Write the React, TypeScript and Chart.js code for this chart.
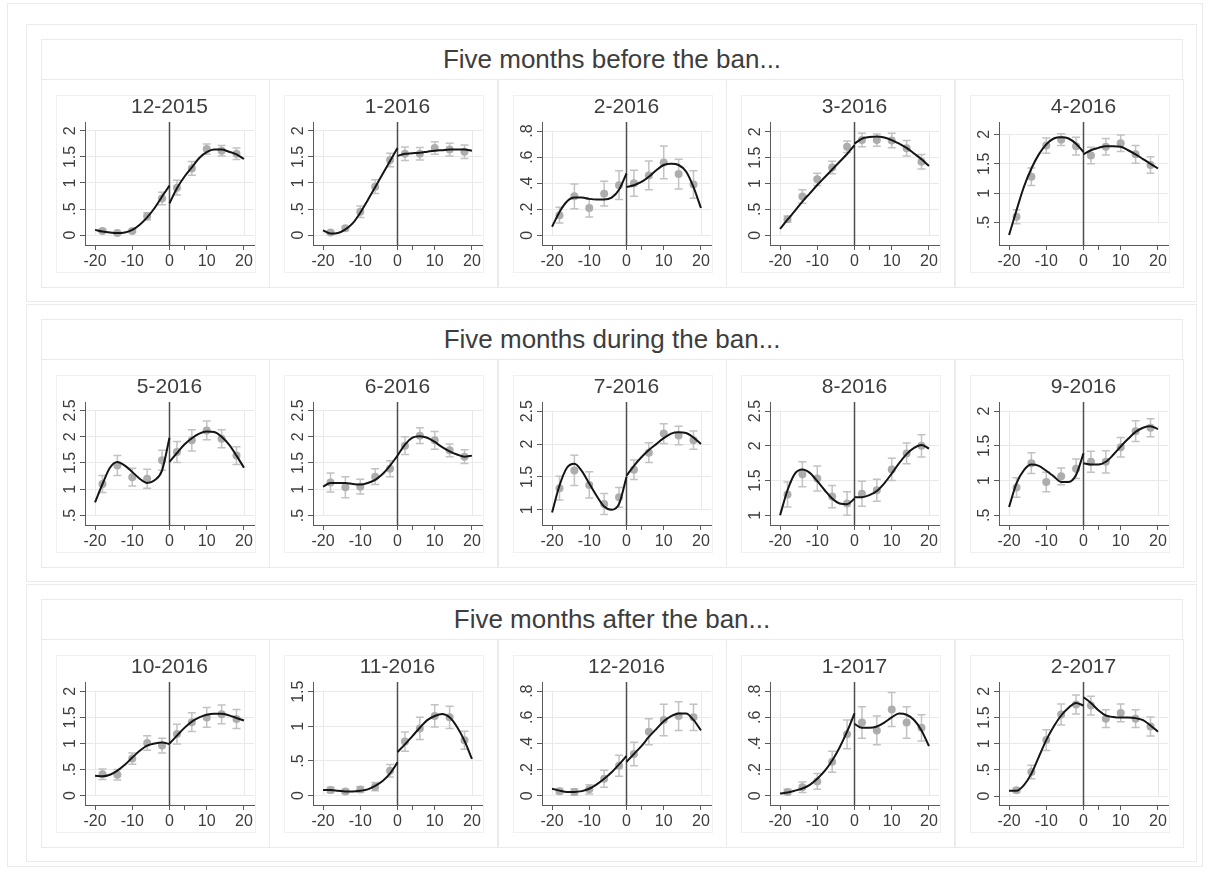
import React, { useEffect, useRef } from 'react';
import { Chart, registerables } from 'chart.js';

Chart.register(...registerables);

const FONT = "'Liberation Sans', Arial, Helvetica, sans-serif";
const TEXT = '#3d3d3d';
const FRAME = '#ebebeb';
const GRID = '#e9e9e9';
const AXIS = '#5a5a5a';

// ---------- shared axes / categories ----------
const groupTitles = ['Five months before the ban...', 'Five months during the ban...', 'Five months after the ban...'];
const binX = [-18, -14, -10, -6, -2, 2, 6, 10, 14, 18];
const fitXLeft = [-20, -18, -16, -14, -12, -10, -8, -6, -4, -2, 0];
const fitXRight = [0, 2, 4, 6, 8, 10, 12, 14, 16, 18, 20];
const xTicks = [-20, -10, 0, 10, 20];
const xExtraTick = 4;
const xRange = [-22.7, 22.7];

// ---------- 12-2015 ----------
const dec15Mean = [0.08, 0.04, 0.08, 0.36, 0.70, 0.91, 1.28, 1.65, 1.62, 1.56];
const dec15Err = [0.03, 0.03, 0.03, 0.07, 0.12, 0.14, 0.13, 0.10, 0.10, 0.11];
const dec15FitL = [0.10, 0.07, 0.05, 0.04, 0.05, 0.10, 0.20, 0.34, 0.52, 0.74, 0.95];
const dec15FitR = [0.61, 0.90, 1.12, 1.30, 1.48, 1.59, 1.64, 1.64, 1.60, 1.55, 1.46];
const dec15YTicks = [0, 0.5, 1, 1.5, 2];
const dec15YRange = [-0.19, 2.17];

// ---------- 1-2016 ----------
const jan16Mean = [0.05, 0.13, 0.45, 0.93, 1.44, 1.56, 1.56, 1.67, 1.64, 1.60];
const jan16Err = [0.03, 0.04, 0.11, 0.13, 0.13, 0.13, 0.12, 0.12, 0.12, 0.13];
const jan16FitL = [0.09, 0.03, 0.04, 0.11, 0.23, 0.43, 0.67, 0.92, 1.17, 1.42, 1.67];
const jan16FitR = [1.52, 1.56, 1.57, 1.58, 1.60, 1.62, 1.63, 1.64, 1.64, 1.64, 1.62];
const jan16YTicks = [0, 0.5, 1, 1.5, 2];
const jan16YRange = [-0.19, 2.17];

// ---------- 2-2016 ----------
const feb16Mean = [0.155, 0.30, 0.21, 0.32, 0.385, 0.40, 0.46, 0.56, 0.47, 0.39];
const feb16Err = [0.06, 0.095, 0.07, 0.095, 0.11, 0.10, 0.11, 0.125, 0.115, 0.105];
const feb16FitL = [0.066, 0.18, 0.26, 0.29, 0.29, 0.28, 0.275, 0.275, 0.29, 0.35, 0.475];
const feb16FitR = [0.37, 0.385, 0.41, 0.45, 0.50, 0.54, 0.55, 0.54, 0.49, 0.37, 0.21];
const feb16YTicks = [0, 0.2, 0.4, 0.6, 0.8];
const feb16YRange = [-0.074, 0.87];

// ---------- 3-2016 ----------
const mar16Mean = [0.31, 0.75, 1.08, 1.31, 1.71, 1.84, 1.84, 1.83, 1.68, 1.42];
const mar16Err = [0.06, 0.13, 0.12, 0.12, 0.11, 0.13, 0.12, 0.14, 0.15, 0.14];
const mar16FitL = [0.12, 0.30, 0.47, 0.65, 0.81, 0.97, 1.12, 1.27, 1.42, 1.57, 1.74];
const mar16FitR = [1.77, 1.87, 1.90, 1.91, 1.89, 1.84, 1.77, 1.69, 1.58, 1.47, 1.34];
const mar16YTicks = [0, 0.5, 1, 1.5, 2];
const mar16YRange = [-0.19, 2.19];

// ---------- 4-2016 ----------
const apr16Mean = [0.60, 1.28, 1.81, 1.91, 1.80, 1.64, 1.79, 1.85, 1.66, 1.48];
const apr16Err = [0.12, 0.15, 0.13, 0.10, 0.15, 0.14, 0.14, 0.14, 0.15, 0.14];
const apr16FitL = [0.29, 0.71, 1.11, 1.42, 1.66, 1.83, 1.93, 1.95, 1.93, 1.84, 1.70];
const apr16FitR = [1.66, 1.73, 1.77, 1.80, 1.80, 1.79, 1.73, 1.66, 1.58, 1.50, 1.42];
const apr16YTicks = [0.5, 1, 1.5, 2];
const apr16YRange = [0.12, 2.21];

// ---------- 5-2016 ----------
const may16Mean = [1.10, 1.45, 1.23, 1.20, 1.55, 1.71, 1.93, 2.12, 1.96, 1.64];
const may16Err = [0.16, 0.19, 0.17, 0.18, 0.19, 0.20, 0.20, 0.18, 0.17, 0.17];
const may16FitL = [0.75, 1.10, 1.41, 1.52, 1.45, 1.33, 1.20, 1.12, 1.17, 1.36, 1.98];
const may16FitR = [1.52, 1.69, 1.85, 1.97, 2.06, 2.10, 2.09, 2.00, 1.85, 1.64, 1.41];
const may16YTicks = [0.5, 1, 1.5, 2, 2.5];
const may16YRange = [0.32, 2.66];

// ---------- 6-2016 ----------
const jun16Mean = [1.13, 1.04, 1.05, 1.24, 1.39, 1.83, 2.02, 1.93, 1.74, 1.62];
const jun16Err = [0.18, 0.20, 0.14, 0.15, 0.15, 0.17, 0.15, 0.17, 0.12, 0.13];
const jun16FitL = [1.05, 1.12, 1.12, 1.12, 1.10, 1.09, 1.12, 1.18, 1.29, 1.45, 1.64];
const jun16FitR = [1.64, 1.85, 1.98, 2.01, 1.98, 1.90, 1.80, 1.72, 1.66, 1.62, 1.64];
const jun16YTicks = [0.5, 1, 1.5, 2, 2.5];
const jun16YRange = [0.32, 2.66];

// ---------- 7-2016 ----------
const jul16Mean = [1.33, 1.60, 1.38, 1.09, 1.19, 1.61, 1.87, 2.16, 2.13, 2.06];
const jul16Err = [0.18, 0.23, 0.20, 0.16, 0.15, 0.15, 0.15, 0.15, 0.14, 0.14];
const jul16FitL = [0.96, 1.37, 1.64, 1.70, 1.59, 1.40, 1.21, 1.05, 1.00, 1.09, 1.50];
const jul16FitR = [1.52, 1.67, 1.80, 1.91, 2.00, 2.09, 2.16, 2.18, 2.17, 2.10, 2.00];
const jul16YTicks = [1, 1.5, 2, 2.5];
const jul16YRange = [0.77, 2.64];

// ---------- 8-2016 ----------
const aug16Mean = [1.30, 1.59, 1.53, 1.27, 1.17, 1.31, 1.36, 1.66, 1.89, 2.00];
const aug16Err = [0.18, 0.18, 0.18, 0.16, 0.17, 0.18, 0.16, 0.16, 0.15, 0.16];
const aug16FitL = [1.00, 1.36, 1.60, 1.66, 1.61, 1.49, 1.36, 1.24, 1.17, 1.16, 1.24];
const aug16FitR = [1.26, 1.26, 1.29, 1.35, 1.46, 1.60, 1.75, 1.88, 1.97, 2.01, 1.96];
const aug16YTicks = [1, 1.5, 2, 2.5];
const aug16YRange = [0.86, 2.63];

// ---------- 9-2016 ----------
const sep16Mean = [0.90, 1.25, 0.98, 1.06, 1.17, 1.27, 1.27, 1.48, 1.71, 1.76];
const sep16Err = [0.14, 0.15, 0.14, 0.12, 0.14, 0.15, 0.16, 0.14, 0.15, 0.13];
const sep16FitL = [0.62, 0.96, 1.15, 1.23, 1.21, 1.14, 1.06, 0.98, 0.98, 1.08, 1.39];
const sep16FitR = [1.25, 1.23, 1.23, 1.27, 1.37, 1.49, 1.60, 1.70, 1.76, 1.78, 1.74];
const sep16YTicks = [0.5, 1, 1.5, 2];
const sep16YRange = [0.36, 2.13];

// ---------- 10-2016 ----------
const oct16Mean = [0.41, 0.40, 0.71, 1.01, 0.96, 1.18, 1.41, 1.50, 1.56, 1.47];
const oct16Err = [0.10, 0.10, 0.11, 0.14, 0.14, 0.19, 0.18, 0.19, 0.18, 0.18];
const oct16FitL = [0.38, 0.37, 0.40, 0.48, 0.59, 0.73, 0.86, 0.96, 1.00, 1.02, 0.99];
const oct16FitR = [1.00, 1.15, 1.30, 1.42, 1.50, 1.55, 1.57, 1.57, 1.54, 1.49, 1.44];
const oct16YTicks = [0, 0.5, 1, 1.5, 2];
const oct16YRange = [-0.18, 2.18];

// ---------- 11-2016 ----------
const nov16Mean = [0.08, 0.06, 0.09, 0.13, 0.36, 0.78, 0.97, 1.15, 1.13, 0.80];
const nov16Err = [0.04, 0.03, 0.04, 0.06, 0.09, 0.14, 0.16, 0.16, 0.16, 0.13];
const nov16FitL = [0.08, 0.08, 0.07, 0.06, 0.06, 0.07, 0.09, 0.14, 0.21, 0.32, 0.48];
const nov16FitR = [0.63, 0.74, 0.86, 0.98, 1.09, 1.15, 1.18, 1.13, 0.99, 0.79, 0.53];
const nov16YTicks = [0, 0.5, 1, 1.5];
const nov16YRange = [-0.135, 1.64];

// ---------- 12-2016 ----------
const dec16Mean = [0.036, 0.03, 0.05, 0.13, 0.23, 0.32, 0.49, 0.58, 0.61, 0.60];
const dec16Err = [0.02, 0.025, 0.035, 0.065, 0.08, 0.09, 0.10, 0.12, 0.11, 0.10];
const dec16FitL = [0.054, 0.04, 0.03, 0.03, 0.036, 0.054, 0.087, 0.13, 0.18, 0.24, 0.305];
const dec16FitR = [0.26, 0.32, 0.38, 0.45, 0.51, 0.57, 0.61, 0.63, 0.63, 0.58, 0.50];
const dec16YTicks = [0, 0.2, 0.4, 0.6, 0.8];
const dec16YRange = [-0.07, 0.87];

// ---------- 1-2017 ----------
const jan17Mean = [0.03, 0.065, 0.11, 0.26, 0.47, 0.56, 0.50, 0.66, 0.56, 0.52];
const jan17Err = [0.02, 0.04, 0.06, 0.08, 0.11, 0.12, 0.11, 0.13, 0.12, 0.10];
const jan17FitL = [0.018, 0.026, 0.04, 0.056, 0.084, 0.13, 0.19, 0.27, 0.37, 0.49, 0.63];
const jan17FitR = [0.55, 0.52, 0.52, 0.53, 0.56, 0.60, 0.63, 0.62, 0.58, 0.50, 0.38];
const jan17YTicks = [0, 0.2, 0.4, 0.6, 0.8];
const jan17YRange = [-0.07, 0.87];

// ---------- 2-2017 ----------
const feb17Mean = [0.11, 0.46, 1.07, 1.56, 1.75, 1.73, 1.48, 1.59, 1.48, 1.33];
const feb17Err = [0.04, 0.13, 0.20, 0.20, 0.18, 0.18, 0.17, 0.17, 0.17, 0.18];
const feb17FitL = [0.10, 0.10, 0.21, 0.43, 0.75, 1.07, 1.33, 1.54, 1.69, 1.78, 1.73];
const feb17FitR = [1.89, 1.78, 1.64, 1.54, 1.51, 1.50, 1.50, 1.49, 1.45, 1.35, 1.23];
const feb17YTicks = [0, 0.5, 1, 1.5, 2];
const feb17YRange = [-0.17, 2.18];

type Panel = {
  title: string;
  mean: number[];
  err: number[];
  fitL: number[];
  fitR: number[];
  yTicks: number[];
  yRange: number[];
};

const panels: Panel[] = [
  { title: '12-2015', mean: dec15Mean, err: dec15Err, fitL: dec15FitL, fitR: dec15FitR, yTicks: dec15YTicks, yRange: dec15YRange },
  { title: '1-2016', mean: jan16Mean, err: jan16Err, fitL: jan16FitL, fitR: jan16FitR, yTicks: jan16YTicks, yRange: jan16YRange },
  { title: '2-2016', mean: feb16Mean, err: feb16Err, fitL: feb16FitL, fitR: feb16FitR, yTicks: feb16YTicks, yRange: feb16YRange },
  { title: '3-2016', mean: mar16Mean, err: mar16Err, fitL: mar16FitL, fitR: mar16FitR, yTicks: mar16YTicks, yRange: mar16YRange },
  { title: '4-2016', mean: apr16Mean, err: apr16Err, fitL: apr16FitL, fitR: apr16FitR, yTicks: apr16YTicks, yRange: apr16YRange },
  { title: '5-2016', mean: may16Mean, err: may16Err, fitL: may16FitL, fitR: may16FitR, yTicks: may16YTicks, yRange: may16YRange },
  { title: '6-2016', mean: jun16Mean, err: jun16Err, fitL: jun16FitL, fitR: jun16FitR, yTicks: jun16YTicks, yRange: jun16YRange },
  { title: '7-2016', mean: jul16Mean, err: jul16Err, fitL: jul16FitL, fitR: jul16FitR, yTicks: jul16YTicks, yRange: jul16YRange },
  { title: '8-2016', mean: aug16Mean, err: aug16Err, fitL: aug16FitL, fitR: aug16FitR, yTicks: aug16YTicks, yRange: aug16YRange },
  { title: '9-2016', mean: sep16Mean, err: sep16Err, fitL: sep16FitL, fitR: sep16FitR, yTicks: sep16YTicks, yRange: sep16YRange },
  { title: '10-2016', mean: oct16Mean, err: oct16Err, fitL: oct16FitL, fitR: oct16FitR, yTicks: oct16YTicks, yRange: oct16YRange },
  { title: '11-2016', mean: nov16Mean, err: nov16Err, fitL: nov16FitL, fitR: nov16FitR, yTicks: nov16YTicks, yRange: nov16YRange },
  { title: '12-2016', mean: dec16Mean, err: dec16Err, fitL: dec16FitL, fitR: dec16FitR, yTicks: dec16YTicks, yRange: dec16YRange },
  { title: '1-2017', mean: jan17Mean, err: jan17Err, fitL: jan17FitL, fitR: jan17FitR, yTicks: jan17YTicks, yRange: jan17YRange },
  { title: '2-2017', mean: feb17Mean, err: feb17Err, fitL: feb17FitL, fitR: feb17FitR, yTicks: feb17YTicks, yRange: feb17YRange },
];

// ---------- layout ----------
const PANEL_W = 228;
const PANEL_H = 209;
const panelLefts = [41, 269, 498, 726, 955];
const groupTops = [24, 304, 584];

const fmtY = (v: number) => {
  const s = String(v);
  if (s.startsWith('0.')) return s.slice(1);
  return s;
};

function PanelChart({ p }: { p: Panel }) {
  const ref = useRef<HTMLCanvasElement>(null);
  useEffect(() => {
    const canvas = ref.current;
    if (!canvas) return;
    const decor = {
      id: 'stataDecor',
      beforeDatasetsDraw(chart: any) {
        const { ctx, chartArea: a } = chart;
        const x = chart.scales.x;
        const y = chart.scales.y;
        ctx.save();
        const yTop = y.getPixelForValue(p.yTicks[p.yTicks.length - 1]);
        const yBot = y.getPixelForValue(p.yTicks[0]);
        ctx.strokeStyle = GRID;
        ctx.lineWidth = 1;
        [xTicks[0], xTicks[xTicks.length - 1]].forEach((v) => {
          const px = Math.round(x.getPixelForValue(v)) + 0.5;
          ctx.beginPath();
          ctx.moveTo(px, yTop);
          ctx.lineTo(px, yBot);
          ctx.stroke();
        });
        const x0 = x.getPixelForValue(0);
        ctx.strokeStyle = '#4e4e4e';
        ctx.lineWidth = 1.5;
        ctx.beginPath();
        ctx.moveTo(x0, a.top);
        ctx.lineTo(x0, a.bottom);
        ctx.stroke();
        ctx.strokeStyle = '#c2c2c2';
        ctx.lineWidth = 1.5;
        binX.forEach((bx, i) => {
          const px = x.getPixelForValue(bx);
          const lo = y.getPixelForValue(p.mean[i] - p.err[i]);
          const hi = y.getPixelForValue(p.mean[i] + p.err[i]);
          ctx.beginPath();
          ctx.moveTo(px, lo);
          ctx.lineTo(px, hi);
          ctx.moveTo(px - 4, lo);
          ctx.lineTo(px + 4, lo);
          ctx.moveTo(px - 4, hi);
          ctx.lineTo(px + 4, hi);
          ctx.stroke();
        });
        ctx.restore();
      },
      afterDraw(chart: any) {
        const { ctx, chartArea: a } = chart;
        const y = chart.scales.y;
        ctx.save();
        ctx.fillStyle = TEXT;
        ctx.font = `16px ${FONT}`;
        ctx.textAlign = 'center';
        ctx.textBaseline = 'alphabetic';
        p.yTicks.forEach((v) => {
          const py = y.getPixelForValue(v);
          ctx.save();
          ctx.translate(a.left - 10, py);
          ctx.rotate(-Math.PI / 2);
          ctx.fillText(fmtY(v), 0, 0);
          ctx.restore();
        });
        ctx.restore();
      },
    };

    const chart = new Chart(canvas, {
      type: 'scatter',
      data: {
        datasets: [
          {
            type: 'line',
            data: p.fitL.map((v, i) => ({ x: fitXLeft[i], y: v })),
            borderColor: '#151515',
            borderWidth: 2,
            pointRadius: 0,
            fill: false,
            cubicInterpolationMode: 'monotone',
          },
          {
            type: 'line',
            data: p.fitR.map((v, i) => ({ x: fitXRight[i], y: v })),
            borderColor: '#151515',
            borderWidth: 2,
            pointRadius: 0,
            fill: false,
            cubicInterpolationMode: 'monotone',
          },
          {
            type: 'scatter',
            data: p.mean.map((v, i) => ({ x: binX[i], y: v })),
            pointRadius: 4,
            pointBackgroundColor: '#adadad',
            pointBorderWidth: 0,
          },
        ],
      } as any,
      options: {
        animation: false,
        responsive: false,
        maintainAspectRatio: false,
        events: [],
        layout: { padding: { left: 0, right: 15, top: 0, bottom: 0 } },
        plugins: {
          legend: { display: false },
          tooltip: { enabled: false },
          title: {
            display: true,
            text: p.title,
            color: TEXT,
            fullSize: false,
            font: { family: FONT, size: 21, weight: 'normal', lineHeight: 1.2 },
            padding: { top: 16, bottom: 1.8 },
          },
        },
        scales: {
          x: {
            type: 'linear',
            min: xRange[0],
            max: xRange[1],
            afterBuildTicks: (s: any) => {
              s.ticks = [...xTicks, xExtraTick].sort((a, b) => a - b).map((v) => ({ value: v }));
            },
            afterFit: (s: any) => {
              s.height = 43;
            },
            ticks: {
              autoSkip: false,
              maxRotation: 0,
              minRotation: 0,
              padding: 2,
              color: TEXT,
              font: { family: FONT, size: 16 },
              callback: (v: any) => (v === xExtraTick ? '' : String(v)),
            },
            grid: { drawOnChartArea: false, drawTicks: true, tickLength: 5, tickColor: AXIS, tickWidth: 1 },
            border: { display: true, color: AXIS, width: 1 },
          },
          y: {
            type: 'linear',
            min: p.yRange[0],
            max: p.yRange[1],
            afterBuildTicks: (s: any) => {
              s.ticks = p.yTicks.map((v) => ({ value: v }));
            },
            afterFit: (s: any) => {
              s.width = 44;
            },
            ticks: { display: false },
            grid: { color: GRID, lineWidth: 1, drawTicks: true, tickLength: 5, tickColor: AXIS, tickWidth: 1 },
            border: { display: true, color: AXIS, width: 1 },
          },
        },
      } as any,
      plugins: [decor],
    });
    return () => chart.destroy();
  }, [p]);
  return (
    <canvas
      ref={ref}
      width={PANEL_W}
      height={PANEL_H}
      style={{ position: 'absolute', left: 0, top: 0, width: PANEL_W, height: PANEL_H, display: 'block' }}
    />
  );
}

export default function App() {
  return (
    <div
      style={{
        position: 'absolute',
        left: 0,
        top: 0,
        width: 1208,
        height: 877,
        background: '#ffffff',
        fontFamily: FONT,
        overflow: 'hidden',
      }}
    >
      <div style={{ position: 'absolute', left: 7, top: 3, width: 1196, height: 864, border: `1px solid ${FRAME}`, boxSizing: 'border-box' }} />
      {groupTitles.map((gt, gi) => {
        const top = groupTops[gi];
        return (
          <React.Fragment key={gt}>
            <div style={{ position: 'absolute', left: 26, top, width: 1171, height: 278, border: `1px solid ${FRAME}`, boxSizing: 'border-box' }} />
            <div
              style={{
                position: 'absolute',
                left: 41,
                top: top + 15,
                width: 1142,
                height: 41,
                border: `1px solid ${FRAME}`,
                boxSizing: 'border-box',
                textAlign: 'center',
                lineHeight: '39px',
                fontSize: 26,
                color: TEXT,
                whiteSpace: 'nowrap',
              }}
            >
              {gt}
            </div>
            {panelLefts.map((pl, pi) => {
              const p = panels[gi * 5 + pi];
              return (
                <div
                  key={p.title}
                  style={{ position: 'absolute', left: pl, top: top + 55, width: PANEL_W + 1, height: PANEL_H, border: `1px solid ${FRAME}`, boxSizing: 'border-box' }}
                >
                  <div style={{ position: 'absolute', left: 14, top: 15, width: 200, height: 178, border: `1px solid #f0f0f0`, boxSizing: 'border-box' }} />
                  <div style={{ position: 'absolute', left: -1, top: -1, width: PANEL_W, height: PANEL_H }}>
                    <PanelChart p={p} />
                  </div>
                </div>
              );
            })}
          </React.Fragment>
        );
      })}
    </div>
  );
}
